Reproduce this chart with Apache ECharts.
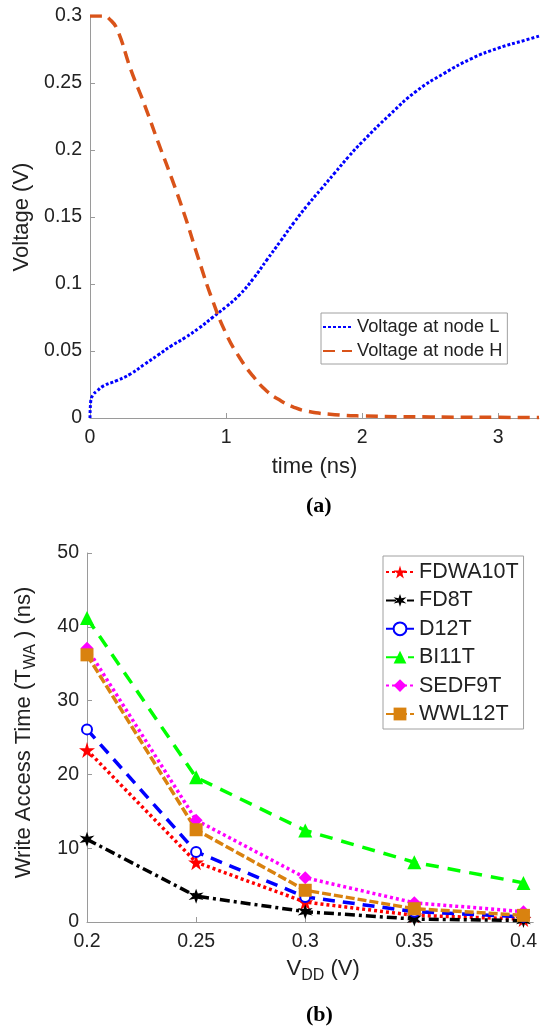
<!DOCTYPE html>
<html>
<head>
<meta charset="utf-8">
<script src="https://cdn.jsdelivr.net/npm/echarts@6/dist/echarts.min.js"></script>
<style>
  html, body { margin: 0; padding: 0; background: #fff; }
  #main { width: 540px; height: 1032px; }
</style>
</head>
<body>
<div id="main"></div>
<script>
var myChart = echarts.init(document.getElementById('main'));

// (a) node voltages, [time ns, V]
var nodeL = [[0,0],[0.005,0.012],[0.02,0.017],[0.05,0.02],[0.1,0.024],[0.2,0.028],[0.3,0.033],[0.4,0.04],[0.5,0.047],[0.6,0.054],[0.7,0.06],[0.8,0.067],[0.9,0.075],[1.0,0.083],[1.1,0.092],[1.2,0.104],[1.3,0.118],[1.4,0.132],[1.5,0.146],[1.6,0.159],[1.7,0.171],[1.8,0.183],[1.9,0.195],[2.0,0.206],[2.2,0.226],[2.4,0.244],[2.6,0.257],[2.8,0.268],[3.0,0.276],[3.2,0.282],[3.3,0.285]]
var nodeH = [[0,0.3],[0.1,0.3],[0.15,0.297],[0.2,0.29],[0.3,0.26],[0.4,0.234],[0.5,0.206],[0.6,0.179],[0.7,0.15],[0.8,0.118],[0.9,0.088],[1.0,0.063],[1.1,0.045],[1.2,0.031],[1.3,0.02],[1.4,0.013],[1.5,0.008],[1.6,0.005],[1.8,0.0025],[2.0,0.0015],[2.5,0.0008],[3.0,0.0005],[3.3,0.0004]]

// (b) write access time (ns) vs VDD
var vdd = [0.2, 0.25, 0.3, 0.35, 0.4]
var fdwa10t = [23.3, 8.1, 2.7, 0.9, 0.4]
var fd8t = [11.2, 3.5, 1.4, 0.4, 0.2]
var d12t = [26.1, 9.5, 3.4, 1.4, 0.7]
var bi11t = [41.2, 19.6, 12.4, 8.1, 5.3]
var sedf9t = [37.1, 13.8, 6.0, 2.6, 1.4]
var wwl12t = [36.2, 12.5, 4.3, 1.8, 0.9]

function pairs(ys) {
    return ys.map(function (y, i) { return [vdd[i], y] })
}

var star5 = 'path://M50,0 L61,35 L98,35 L68,57 L79,91 L50,70 L21,91 L32,57 L2,35 L39,35 Z'
var star6 = 'path://M50,0 L60,32.7 L93.3,25 L70,50 L93.3,75 L60,67.3 L50,100 L40,67.3 L6.7,75 L30,50 L6.7,25 L40,32.7 Z'

var font = 'Liberation Sans'
var axisGrey = '#9a9a9a'
var txt = '#222'

function valueAxis(idx, extra) {
    var a = {
        type: 'value',
        gridIndex: idx,
        axisLine: { show: true, lineStyle: { color: axisGrey, width: 1 } },
        axisTick: { show: true, inside: true, length: 5, lineStyle: { color: axisGrey } },
        axisLabel: { color: txt, fontSize: 19.5, fontFamily: font, margin: 8 },
        splitLine: { show: false },
        nameLocation: 'middle',
        nameTextStyle: { color: txt, fontSize: 22, fontFamily: font }
    }
    for (var k in extra) a[k] = extra[k]
    return a
}

var subRich = {
    a: { fontSize: 22, fontFamily: font, color: txt, lineHeight: 26 },
    s: { fontSize: 16, fontFamily: font, color: txt, lineHeight: 26, padding: [14, 0, 0, 0] }
}

var option = {
    animation: false,
    backgroundColor: '#fff',
    textStyle: { fontFamily: font },
    grid: [
        { left: 90, top: 16, width: 449, height: 402 },
        { left: 87, top: 553, width: 453, height: 369 }
    ],
    xAxis: [
        valueAxis(0, { min: 0, max: 3.3, interval: 1, name: 'time (ns)', nameGap: 38,
            axisLabel: { color: txt, fontSize: 19.5, fontFamily: font, margin: 10, showMaxLabel: false } }),
        valueAxis(1, { min: 0.2, max: 0.4045, interval: 0.05, nameGap: 34,
            name: '{a|V}{s|DD}{a| (V)}',
            nameTextStyle: { rich: subRich, padding: [0, 0, 0, 26] },
            axisLabel: { color: txt, fontSize: 19.5, fontFamily: font, margin: 10, showMaxLabel: false } })
    ],
    yAxis: [
        valueAxis(0, { min: 0, max: 0.3, interval: 0.05, name: 'Voltage (V)', nameGap: 56 }),
        valueAxis(1, { min: 0, max: 50, interval: 10, nameGap: 50,
            name: '{a|Write Access Time (T}{s|WA}{a| ) (ns)}',
            nameTextStyle: { rich: subRich, padding: [0, 0, 0, 10] } })
    ],
    legend: [
        {
            data: ['Voltage at node L', 'Voltage at node H'],
            left: 321, top: 313, orient: 'vertical',
            itemWidth: 29, itemHeight: 14, itemGap: 4,
            padding: [4, 5, 3, 1],
            itemStyle: { opacity: 0 },
            borderColor: '#a0a0a0', borderWidth: 1,
            textStyle: { color: txt, fontSize: 18.3, fontFamily: font, lineHeight: 20 }
        },
        {
            data: ['FDWA10T', 'FD8T', 'D12T', 'BI11T', 'SEDF9T', 'WWL12T'],
            left: 383, top: 556, orient: 'vertical',
            itemWidth: 28, itemHeight: 16, itemGap: 4.4,
            padding: [4, 5, 3, 2],
            borderColor: '#a0a0a0', borderWidth: 1,
            textStyle: { color: txt, fontSize: 21.5, fontFamily: font, lineHeight: 24 }
        }
    ],
    graphic: [
        { type: 'text', left: 306, top: 495, style: { text: '(a)', font: 'bold 22px "Liberation Serif"', fill: '#000' } },
        { type: 'text', left: 306, top: 1004, style: { text: '(b)', font: 'bold 22px "Liberation Serif"', fill: '#000' } }
    ],
    series: [
        {
            name: 'Voltage at node L', type: 'line', xAxisIndex: 0, yAxisIndex: 0,
            data: nodeL, showSymbol: false, symbol: 'none', smooth: true,
            itemStyle: { color: '#0000ff' },
            lineStyle: { color: '#0000ff', width: 3, type: [3, 2] }
        },
        {
            name: 'Voltage at node H', type: 'line', xAxisIndex: 0, yAxisIndex: 0,
            data: nodeH, showSymbol: false, symbol: 'none', smooth: true,
            itemStyle: { color: '#d95319' },
            lineStyle: { color: '#d95319', width: 3.5, type: [12, 7] }
        },
        {
            name: 'FDWA10T', type: 'line', xAxisIndex: 1, yAxisIndex: 1, data: pairs(fdwa10t),
            symbol: star5, symbolSize: 16,
            itemStyle: { color: '#ff0000' },
            lineStyle: { color: '#ff0000', width: 3.5, type: [3, 3] }
        },
        {
            name: 'FD8T', type: 'line', xAxisIndex: 1, yAxisIndex: 1, data: pairs(fd8t),
            symbol: star6, symbolSize: 15,
            itemStyle: { color: '#000000' },
            lineStyle: { color: '#000000', width: 3.5, type: [10, 4, 3, 4] }
        },
        {
            name: 'D12T', type: 'line', xAxisIndex: 1, yAxisIndex: 1, data: pairs(d12t),
            symbol: 'emptyCircle', symbolSize: 10,
            itemStyle: { color: '#0000ff', borderWidth: 3 },
            lineStyle: { color: '#0000ff', width: 3.5, type: [12, 8] }
        },
        {
            name: 'BI11T', type: 'line', xAxisIndex: 1, yAxisIndex: 1, data: pairs(bi11t),
            symbol: 'triangle', symbolSize: 14,
            itemStyle: { color: '#00ff00' },
            lineStyle: { color: '#00ff00', width: 3.5, type: [13, 9] }
        },
        {
            name: 'SEDF9T', type: 'line', xAxisIndex: 1, yAxisIndex: 1, data: pairs(sedf9t),
            symbol: 'diamond', symbolSize: 13,
            itemStyle: { color: '#ff00ff' },
            lineStyle: { color: '#ff00ff', width: 3.5, type: [3, 3] }
        },
        {
            name: 'WWL12T', type: 'line', xAxisIndex: 1, yAxisIndex: 1, data: pairs(wwl12t),
            symbol: 'rect', symbolSize: 13,
            itemStyle: { color: '#d9820f' },
            lineStyle: { color: '#d9820f', width: 3.5, type: [9, 3] }
        }
    ]
};

myChart.setOption(option);
</script>
</body>
</html>
